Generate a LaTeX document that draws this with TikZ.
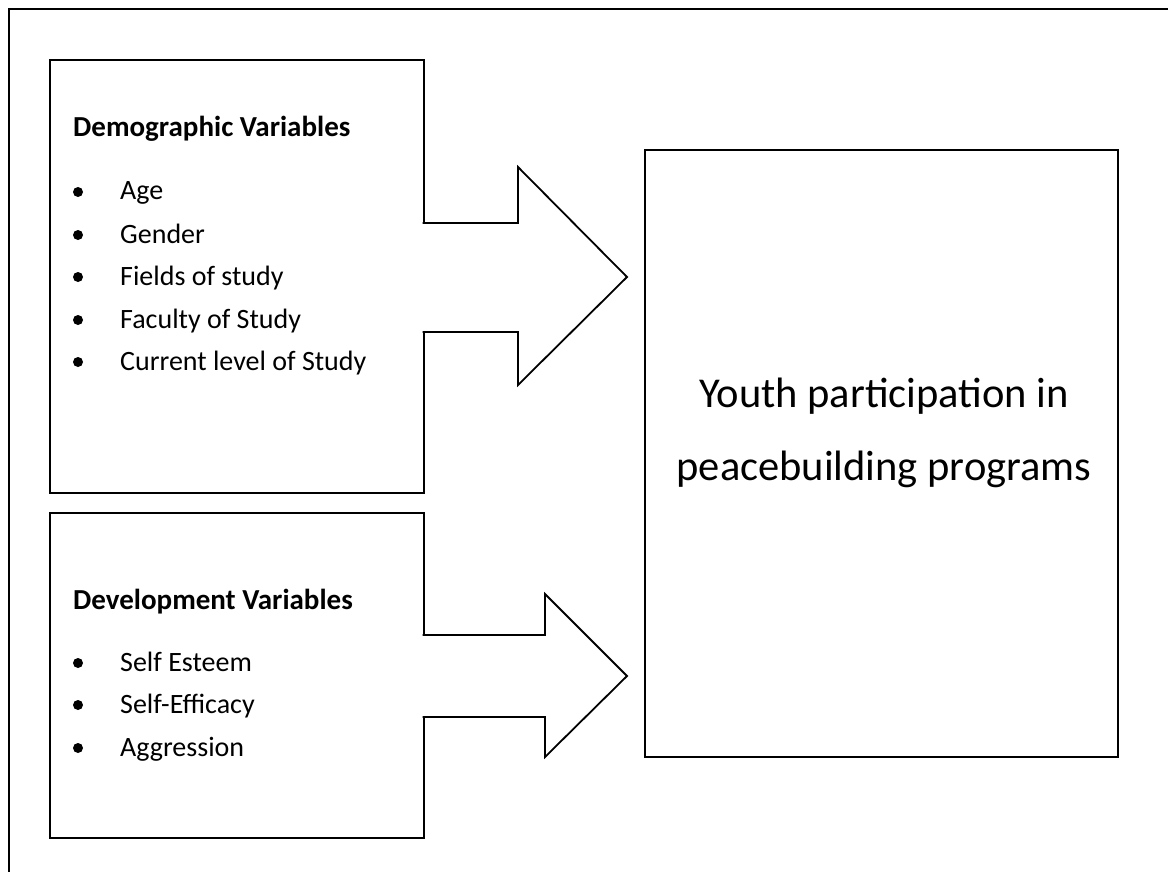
\documentclass[tikz,border=0pt]{standalone}
\usepackage{fontspec}
\setmainfont{Carlito}
\begin{document}
\begin{tikzpicture}[x=1pt,y=-1pt,
  frame/.style={line width=2pt},
  varbox/.style={draw, line width=2pt, inner sep=0pt, outer sep=0pt, anchor=north west},
  blockarrow/.style={draw, fill=white, line width=1.8pt, line join=miter},
  heading/.style={font=\bfseries\fontsize{29}{34}\selectfont, anchor=base west, inner sep=0pt},
  item/.style={font=\fontsize{28}{32}\selectfont, anchor=base west, inner sep=0pt},
  dot/.style={circle, fill=black, minimum size=10pt, inner sep=0pt},
  bigtext/.style={font=\fontsize{42.5}{50}\selectfont, anchor=base, inner sep=0pt}]
\useasboundingbox (0,0) rectangle (1168,872);
\clip (0,0) rectangle (1168,872);
\fill[white] (0,0) rectangle (1168,872);
% outer frame (right and bottom lie outside the picture)
\draw[frame] (9,900) -- (9,9) -- (1200,9);
% boxes
\node[varbox, minimum width=374pt, minimum height=433pt] (demo) at (50,60) {};
\node[varbox, minimum width=374pt, minimum height=325pt] (devel) at (50,513) {};
\node[varbox, minimum width=473pt, minimum height=607pt] (youth) at (645,150) {};
% block arrows
\coordinate (tipA) at (627,277);
\coordinate (tipB) at (627,676);
\filldraw[blockarrow] (422.6,223) -- (518,223) -- (518,167) -- (tipA) -- (518,385) -- (518,332) -- (422.6,332);
\filldraw[blockarrow] (422.6,635) -- (545,635) -- (545,594) -- (tipB) -- (545,757) -- (545,717) -- (422.6,717);
% demographic text
\node[heading] (demoh) at (73,137) {Demographic Variables};
\foreach \t/\y [count=\i] in {Age/200, Gender/243, Fields of study/285, Faculty of Study/328, Current level of Study/370}{
  \node[dot] (demod\i) at (78,\y-8) {};
  \node[item] (demoi\i) at (120,\y) {\t};
}
% development text
\node[heading] (develh) at (73,609) {Development Variables};
\foreach \t/\y [count=\i] in {Self Esteem/671, Self-Efficacy/713, Aggression/756}{
  \node[dot] (develd\i) at (78,\y-8) {};
  \node[item] (develi\i) at (120,\y) {\t};
}
% outcome text
\node[bigtext] (youtha) at (884,407) {Youth participation in};
\node[bigtext] (youthb) at (884,480) {peacebuilding programs};
\end{tikzpicture}
\end{document}
